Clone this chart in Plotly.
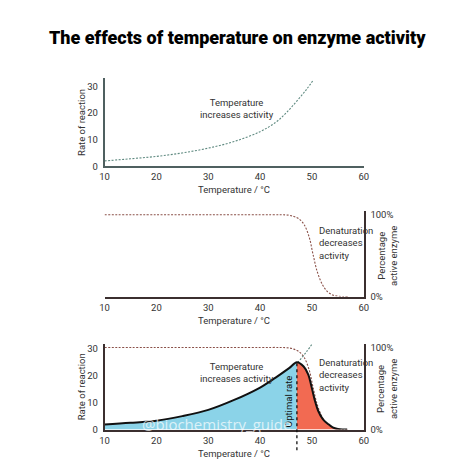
import plotly.graph_objects as go

# ---------------- data ----------------
x_ticks = [10, 20, 30, 40, 50, 60]
rate_ticks = [0, 10, 20, 30]

# temperature-driven rate increase (dashed, panel 1 / 3)
exp_temp = [10, 15, 20, 25, 30, 35, 40, 43, 45, 47, 49, 50.3]
exp_rate = [2.0, 2.8, 3.7, 5.0, 6.8, 9.3, 13.0, 16.5, 20.0, 24.3, 29.0, 32.5]

# percentage active enzyme (dashed, panel 2 / 3)
den_temp = [10, 20, 30, 40, 44, 45.5, 46.5, 47.5, 48.5, 49.5, 50.2, 51, 52, 53, 54, 55, 56, 57]
den_pct = [100, 100, 100, 100, 100, 99.5, 98, 95, 88, 72, 52, 31, 15, 6, 2, 0.6, 0, 0]

# observed rate (solid, panel 3)
obs_temp = [10, 15, 20, 25, 30, 35, 40, 43, 45.6, 47.1, 48.4, 49.3, 49.9, 50.6, 51.2, 52.1, 53.1, 54, 55, 56, 56.8]
obs_rate = [1.9, 2.5, 3.3, 5.0, 7.3, 11.0, 15.6, 19.3, 22.8, 25.0, 23.4, 20.4, 16.1, 10.6, 7.0, 3.9, 2.1, 0.85, 0.25, 0.05, 0.0]

OPT_T = 47.1
OPT_RATE = 25.0

# ---------------- layout constants ----------------
W = H = 474
X_DOM = [101.7 / W, 366.5 / W]
P1_DOM = [1 - 166.7 / H, 1 - 77.6 / H]
P2_DOM = [1 - 299 / H, 1 - 211.8 / H]
P3_DOM = [1 - 434 / H, 1 - 347 / H]
Y1_MAX = 33
Y2_MAX = 105
Y3_MAX = 31.8
Y4_MAX = 104.4

TXT = "#333333"
FONT = "Roboto, Liberation Sans, Arial, sans-serif"
AX1 = "#4f6060"
AX2 = "#3b2f2f"
GREEN_DASH = "#5f8a80"
BROWN_DASH = "#8a5048"
BLUE = "#8bd3e8"
RED = "#f26a52"
FINE_DASH = "2px,1.5px"

fig = go.Figure()

# panel 1
fig.add_trace(go.Scatter(x=exp_temp, y=exp_rate, mode="lines",
                         line=dict(color=GREEN_DASH, width=1.1, dash=FINE_DASH, shape="spline"),
                         xaxis="x", yaxis="y", hoverinfo="skip"))
# panel 2
fig.add_trace(go.Scatter(x=den_temp, y=den_pct, mode="lines",
                         line=dict(color=BROWN_DASH, width=1.1, dash=FINE_DASH, shape="spline"),
                         xaxis="x2", yaxis="y2", hoverinfo="skip"))

# panel 3: denaturation curve mapped onto left scale (drawn under fills)
scale34 = Y3_MAX / Y4_MAX
fig.add_trace(go.Scatter(x=den_temp, y=[p * scale34 for p in den_pct], mode="lines",
                         line=dict(color=BROWN_DASH, width=1.1, dash=FINE_DASH, shape="spline"),
                         xaxis="x3", yaxis="y3", hoverinfo="skip"))
sub_t = [t for t in exp_temp if t >= 44]
sub_r = [r for t, r in zip(exp_temp, exp_rate) if t >= 44]
fig.add_trace(go.Scatter(x=sub_t, y=sub_r, mode="lines",
                         line=dict(color=GREEN_DASH, width=1.1, dash=FINE_DASH, shape="spline"),
                         xaxis="x3", yaxis="y3", hoverinfo="skip"))
left_t = [t for t in obs_temp if t <= OPT_T]
left_r = [r for t, r in zip(obs_temp, obs_rate) if t <= OPT_T]
right_t = [t for t in obs_temp if t >= OPT_T]
right_r = [r for t, r in zip(obs_temp, obs_rate) if t >= OPT_T]
fig.add_trace(go.Scatter(x=left_t, y=left_r, mode="lines", fill="tozeroy", fillcolor=BLUE,
                         line=dict(color=BLUE, width=0, shape="spline"), xaxis="x3", yaxis="y3", hoverinfo="skip"))
fig.add_trace(go.Scatter(x=right_t, y=right_r, mode="lines", fill="tozeroy", fillcolor=RED,
                         line=dict(color=RED, width=0, shape="spline"), xaxis="x3", yaxis="y3", hoverinfo="skip"))
fig.add_trace(go.Scatter(x=obs_temp, y=obs_rate, mode="lines", line=dict(color="#111111", width=2, shape="spline"),
                         xaxis="x3", yaxis="y3", hoverinfo="skip"))
# dummy for right axis of panel 3
fig.add_trace(go.Scatter(x=[None], y=[None], xaxis="x3", yaxis="y4", showlegend=False))

tickfont = dict(family=FONT, size=9.5, color=TXT)

def xax(anchor, color):
    return dict(domain=X_DOM, anchor=anchor, range=[10, 60], tickvals=x_ticks, showline=True, linecolor=color,
                linewidth=1.5, showgrid=False, zeroline=False, ticks="", tickfont=tickfont, fixedrange=True,
                ticklabelstandoff=1)

def yax(**k):
    d = dict(showline=True, linewidth=1.5, showgrid=False, zeroline=False, ticks="", tickfont=tickfont,
             ticklabelstandoff=3)
    d.update(k)
    return d

fig.update_layout(
    width=W, height=H, margin=dict(l=0, r=0, t=0, b=0), showlegend=False,
    paper_bgcolor="white", plot_bgcolor="rgba(0,0,0,0)",
    xaxis=xax("y", AX1),
    yaxis=yax(domain=P1_DOM, anchor="x", range=[0, Y1_MAX], tickvals=rate_ticks, linecolor=AX1),
    xaxis2=xax("y2", AX2),
    yaxis2=yax(domain=P2_DOM, anchor="x2", side="right", range=[0, Y2_MAX], tickvals=[0, 100],
               ticktext=["0%", "100%"], linecolor=AX2),
    xaxis3=xax("y3", AX2),
    yaxis3=yax(domain=P3_DOM, anchor="x3", range=[0, Y3_MAX], tickvals=rate_ticks, linecolor=AX2),
    yaxis4=yax(overlaying="y3", anchor="x3", side="right", range=[0, Y4_MAX], tickvals=[0, 100],
               ticktext=["0%", "100%"], linecolor=AX2),
)

peak_paper = P3_DOM[0] + OPT_RATE / Y3_MAX * (P3_DOM[1] - P3_DOM[0])
fig.add_shape(type="line", xref="x3", yref="paper", x0=OPT_T, x1=OPT_T, y0=1 - 455 / H, y1=peak_paper,
              line=dict(color="#111111", width=1.3, dash="dot"), layer="above")

ann = []
def A(**k):
    base = dict(showarrow=False, font=dict(family=FONT, size=9.5, color=TXT))
    base.update(k)
    ann.append(base)

# title
A(text="The effects of temperature on enzyme activity", xref="paper", yref="paper", x=0.5, y=1 - 36 / H,
  xanchor="center", yanchor="middle",
  font=dict(family="Roboto, Liberation Sans, Arial", size=18, weight=900, color="#000000"))

# x-axis titles
for xr, yr in [("x", "y"), ("x2", "y2"), ("x3", "y3")]:
    A(text="Temperature / °C", xref=xr + " domain", yref=yr + " domain", x=0.5, y=0, yshift=-16,
      xanchor="center", yanchor="top", font=dict(family=FONT, size=9.5, color=TXT))
# left y titles
for xr, yr in [("x", "y"), ("x3", "y3")]:
    A(text="Rate of reaction", xref=xr + " domain", yref=yr + " domain", x=0, y=0.5, xshift=-23, textangle=-90,
      xanchor="center", yanchor="middle", font=dict(family=FONT, size=9.5, color=TXT))
# right titles
for xr, yr in [("x2", "y2"), ("x3", "y3")]:
    A(text="Percentage<br>active enzyme", xref=xr + " domain", yref=yr + " domain", x=1, y=0.47, xshift=23,
      textangle=-90, xanchor="center", yanchor="middle", font=dict(family=FONT, size=9.5, color=TXT))

A(text="Temperature<br>increases activity", xref="x", yref="y", x=35.5, y=21.7, xanchor="center", yanchor="middle")
A(text="Denaturation<br>decreases<br>activity", xref="x2", yref="y2", x=50.9, y=65, xanchor="left",
  yanchor="middle", align="left")
A(text="Temperature<br>increases activity", xref="x3", yref="y3", x=35.5, y=21.0, xanchor="center", yanchor="middle")
A(text="Denaturation<br>decreases<br>activity", xref="x3", yref="y3", x=51.0, y=20.3, xanchor="left",
  yanchor="middle", align="left")
A(text="Optimal rate", xref="x3", yref="y3", x=OPT_T, y=10.6, xanchor="right", yanchor="middle", textangle=-90,
  xshift=-1, font=dict(family=FONT, size=9.5, color="#111111"))
A(text="@biochemistry_guide", xref="paper", yref="paper", x=216 / W, y=1 - 428 / H, xanchor="center",
  yanchor="middle", font=dict(family="Open Sans, sans-serif", size=15, color="rgba(255,255,255,0.7)"))

fig.update_layout(annotations=ann)
fig.write_html("out.html")
